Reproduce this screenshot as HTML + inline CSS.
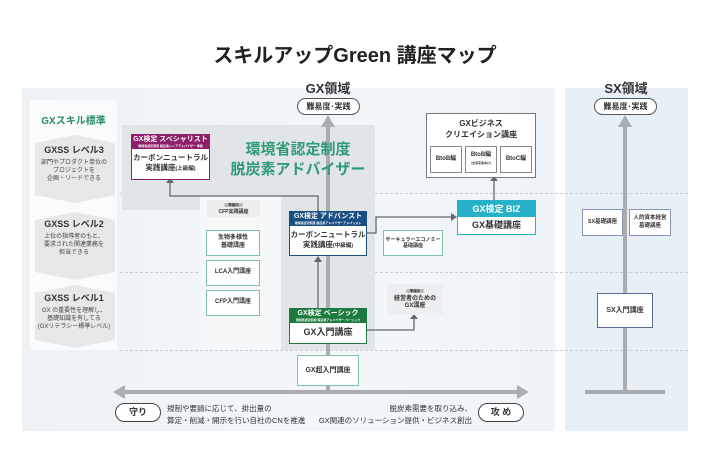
<!DOCTYPE html>
<html><head><meta charset="utf-8"><style>
*{margin:0;padding:0;box-sizing:border-box}
body{width:710px;height:474px;background:#fff;font-family:"Liberation Sans","Noto Sans CJK JP",sans-serif;position:relative;overflow:hidden;color:#333}
.a{position:absolute}
.box{position:absolute;background:#fff;border:1.5px solid #7cc2ab;display:flex;align-items:center;justify-content:center;text-align:center;font-size:6px;font-weight:bold;line-height:1.3;color:#333}
.hd{color:#fff;font-weight:bold;text-align:center}
.dash{position:absolute;height:0;border-top:1px dashed #c8ced3}
.lvl{position:absolute;left:34px;width:80px;text-align:center;font-size:6px;color:#444;line-height:1.35}
.lvl b{display:block;font-size:9px;color:#333;margin-bottom:3px}
</style></head><body>
<div class="a" style="left:0;top:39px;width:710px;text-align:center;font-size:20px;font-weight:bold;color:#222">スキルアップGreen 講座マップ</div>
<div class="a" style="left:22px;top:88px;width:533px;height:343px;background:linear-gradient(90deg,#eef2f5,#f3f6f9 60%,#eef3f8)"></div>
<div class="a" style="left:565px;top:88px;width:123px;height:343px;background:#e7eff7"></div>
<div class="dash" style="left:120px;top:193px;width:568px"></div>
<div class="dash" style="left:120px;top:272px;width:568px"></div>
<div class="dash" style="left:120px;top:350px;width:568px"></div>
<div class="a" style="left:122px;top:125px;width:253px;height:85px;background:#e2e5e7"></div>
<div class="a" style="left:281px;top:210px;width:94px;height:140px;background:#e2e5e7"></div>
<div class="a" style="left:200px;top:196px;width:81px;height:154px;background:#f5f7f9"></div>
<div class="a" style="left:30px;top:100px;width:87px;height:250px;background:#fafbfc"></div>
<div class="a" style="left:30px;top:112px;width:87px;text-align:center;font-size:10px;font-weight:bold;color:#2a8c6a">GXスキル標準</div>
<svg class="a" style="left:35px;top:135px" width="80" height="215">
<polygon points="0,8 40,0 80,8 80,60 40,68 0,60" fill="#e6e8ea"/>
<polygon points="0,85 40,77 80,85 80,137 40,145 0,137" fill="#e6e8ea"/>
<polygon points="0,158 40,150 80,158 80,205 40,213 0,205" fill="#e6e8ea"/>
</svg>
<div class="lvl" style="top:144px"><b>GXSS レベル3</b>部門やプロダクト単位の<br>プロジェクトを<br>企画・リードできる</div>
<div class="lvl" style="top:218px"><b>GXSS レベル2</b>上位の指導者のもと、<br>要求された関連業務を<br>担当できる</div>
<div class="lvl" style="top:292px"><b>GXSS レベル1</b>GX の重要性を理解し、<br>基礎知識を有してる<br>(GXリテラシー標準レベル)</div>
<svg class="a" style="left:0;top:0" width="710" height="474">
<g fill="none" stroke="#a9adb0">
<line x1="328" y1="125" x2="328" y2="393" stroke-width="4"/>
<line x1="625" y1="125" x2="625" y2="393" stroke-width="4"/>
<line x1="585" y1="392" x2="665" y2="392" stroke-width="4"/>
<line x1="122" y1="392" x2="520" y2="392" stroke-width="4"/>
</g>
<g fill="#a9adb0">
<polygon points="321,127 328,115 335,127"/>
<polygon points="618,127 625,115 632,127"/>
<polygon points="125,385 113,392 125,399"/>
<polygon points="517,385 529,392 517,399"/>
</g>
<g fill="none" stroke="#666" stroke-width="1.3">
<polyline points="318,211 318,196 170,196 170,182"/>
<polyline points="318,308 318,260"/>
<polyline points="367,233 376,233 376,217 453,217"/>
<polyline points="367,330 414,330 414,318"/>
<polyline points="494,200 494,180"/>
</g>
<g fill="#666">
<polygon points="166,183 170,178 174,183"/>
<polygon points="314,262 318,256 322,262"/>
<polygon points="451,213 457,217 451,221"/>
<polygon points="410,319 414,314 418,319"/>
<polygon points="490,181 494,176 498,181"/>
</g>
</svg>
<div class="a" style="left:290px;top:78px;width:76px;text-align:center;font-size:13px;font-weight:bold;color:#333">GX領域</div>
<div class="a" style="left:297px;top:98px;width:63px;height:17px;border:1px solid #555;border-radius:9px;background:#fff;font-size:8px;text-align:center;line-height:15px;font-weight:bold">難易度･実践</div>
<div class="a" style="left:588px;top:78px;width:76px;text-align:center;font-size:13px;font-weight:bold;color:#333">SX領域</div>
<div class="a" style="left:594px;top:98px;width:63px;height:17px;border:1px solid #555;border-radius:9px;background:#fff;font-size:8px;text-align:center;line-height:15px;font-weight:bold">難易度･実践</div>
<div class="a" style="left:228px;top:140px;width:140px;text-align:center;font-size:15px;line-height:20px;color:#2f9a78;font-weight:bold">環境省認定制度<br>脱炭素アドバイザー</div>
<div class="a" style="left:131px;top:134px;width:79px;height:46px;border:1.5px solid #8e1f6a;background:#fff">
<div class="hd" style="background:#8e1f6a;height:14px;font-size:7px;line-height:10px">GX検定 スペシャリスト<div style="font-size:3px;line-height:3px">環境省認定制度 脱炭素シニアアドバイザー 準拠</div></div>
<div style="text-align:center;font-size:7.5px;font-weight:bold;line-height:10px;margin-top:4px">カーボンニュートラル<br>実践講座<span style="font-size:5.5px">(上級編)</span></div></div>
<div class="a" style="left:289px;top:211px;width:78px;height:45px;border:1.5px solid #1a4f82;background:#fff">
<div class="hd" style="background:#1a4f82;height:14px;font-size:7px;line-height:10px">GX検定 アドバンスト<div style="font-size:3px;line-height:3px">環境省認定制度 脱炭素アドバイザーアドバンスト</div></div>
<div style="text-align:center;font-size:7.5px;font-weight:bold;line-height:10px;margin-top:4px">カーボンニュートラル<br>実践講座<span style="font-size:5.5px">(中級編)</span></div></div>
<div class="a" style="left:289px;top:308px;width:78px;height:36px;border:1.5px solid #1b7a3e;background:#fff">
<div class="hd" style="background:#1b7a3e;height:14px;font-size:7px;line-height:10px">GX検定 ベーシック<div style="font-size:3px;line-height:3px">環境省認定制度 脱炭素アドバイザー ベーシック</div></div>
<div style="text-align:center;font-size:9px;font-weight:bold;line-height:18px">GX入門講座</div></div>
<div class="a" style="left:457px;top:200px;width:79px;height:35px;border:1.5px solid #27b1c8;background:#fff">
<div class="hd" style="background:#27b1c8;height:16px;font-size:9px;line-height:16px">GX検定 BIZ</div>
<div style="text-align:center;font-size:9px;font-weight:bold;line-height:16px">GX基礎講座</div></div>
<div class="a" style="left:426px;top:113px;width:110px;height:65px;border:1px solid #777;background:#fff">
<div style="text-align:center;font-size:8px;font-weight:bold;line-height:11px;margin-top:4px">GXビジネス<br>クリエイション講座</div></div>
<div class="box" style="left:430px;top:146px;width:32px;height:27px;border:1px solid #888">BtoB編</div>
<div class="box" style="left:465px;top:146px;width:32px;height:27px;border:1px solid #888"><div>BtoB編<br><span style="font-size:3px">(全事業者向け)</span></div></div>
<div class="box" style="left:500px;top:146px;width:32px;height:27px;border:1px solid #888">BtoC編</div>
<div class="box" style="left:207px;top:200px;width:53px;height:17px;background:#eceeef;border:none;font-size:5px"><div><span style="background:#bbb;border-radius:3px;padding:0 4px;font-size:3.5px">準備中</span><br>CFP実践講座</div></div>
<div class="box" style="left:206px;top:230px;width:54px;height:26px"><div>生物多様性<br>基礎講座</div></div>
<div class="box" style="left:206px;top:260px;width:54px;height:26px">LCA入門講座</div>
<div class="box" style="left:206px;top:290px;width:54px;height:26px">CFP入門講座</div>
<div class="box" style="left:383px;top:230px;width:60px;height:26px;font-size:5px"><div>サーキュラーエコノミー<br>基礎講座</div></div>
<div class="box" style="left:387px;top:284px;width:56px;height:31px;background:#eceeef;border:none"><div><span style="background:#bbb;border-radius:3px;padding:0 4px;font-size:3.5px">準備中</span><br>経営者のための<br>GX講座</div></div>
<div class="box" style="left:297px;top:355px;width:62px;height:31px;font-size:7px">GX超入門講座</div>
<div class="box" style="left:582px;top:209px;width:41px;height:27px;border:1px solid #8a93b8;font-size:5.5px">SX基礎講座</div>
<div class="box" style="left:629px;top:209px;width:42px;height:27px;border:1px solid #8a93b8;font-size:5.5px"><div>人的資本経営<br>基礎講座</div></div>
<div class="box" style="left:597px;top:293px;width:56px;height:35px;border:1px solid #5a6a99;font-size:7px">SX入門講座</div>
<div class="a" style="left:115px;top:403px;width:46px;height:19px;border:1px solid #444;border-radius:10px;background:#fff;font-size:9px;font-weight:bold;text-align:center;line-height:17px">守り</div>
<div class="a" style="left:167px;top:403px;font-size:7.5px;line-height:12px;color:#333;white-space:nowrap">規制や要請に応じて、排出量の<br>算定・削減・開示を行い自社のCNを推進</div>
<div class="a" style="left:292px;top:403px;width:180px;text-align:right;font-size:7.5px;line-height:12px;color:#333;white-space:nowrap">脱炭素需要を取り込み、<br>GX関連のソリューション提供・ビジネス創出</div>
<div class="a" style="left:478px;top:403px;width:46px;height:19px;border:1px solid #444;border-radius:10px;background:#fff;font-size:9px;font-weight:bold;text-align:center;line-height:17px">攻 め</div>
</body></html>
